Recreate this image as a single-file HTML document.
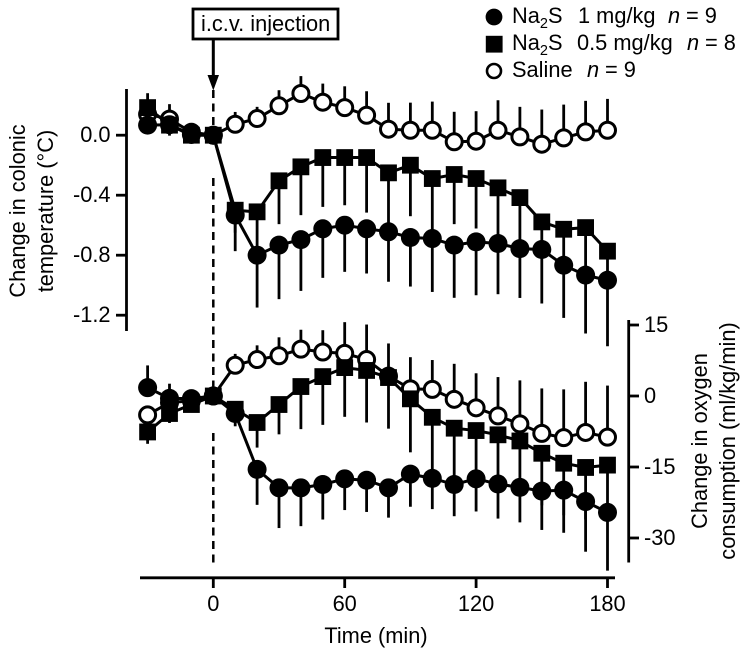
<!DOCTYPE html>
<html lang="en">
<head>
<meta charset="utf-8">
<title>Change in colonic temperature and oxygen consumption</title>
<style>
html,body{margin:0;padding:0;background:#fff;}
svg{display:block;}
text{font-family:"Liberation Sans",Arial,sans-serif;font-size:21.8px;fill:#000;}
</style>
</head>
<body>
<svg id="chart" xmlns="http://www.w3.org/2000/svg" width="751" height="655" viewBox="0 0 751 655">
  <rect x="0" y="0" width="751" height="655" fill="#fff"/>

  <line x1="213.3" y1="90" x2="213.3" y2="128" stroke="#000" stroke-width="2.5" stroke-dasharray="8 5.5"/>
  <line x1="213.3" y1="178" x2="213.3" y2="398" stroke="#000" stroke-width="2.5" stroke-dasharray="8 5.5"/>
  <line x1="213.3" y1="433" x2="213.3" y2="568" stroke="#000" stroke-width="2.5" stroke-dasharray="8 5.5"/>

  <rect x="193" y="9" width="145" height="30" fill="#fff" stroke="#000" stroke-width="2.8"/>
  <text x="201" y="31">i.c.v. injection</text>
  <line x1="213.3" y1="39" x2="213.3" y2="78" stroke="#000" stroke-width="3"/>
  <polygon points="207.5,75 219,75 213.3,90.5" fill="#000"/>

  <g>
    <circle cx="494" cy="17" r="8.4" fill="#000"/>
    <text y="23"><tspan x="512">Na</tspan><tspan font-size="14.5" dy="5">2</tspan><tspan dy="-5">S</tspan><tspan x="578">1 mg/kg</tspan><tspan x="668" font-style="italic">n</tspan><tspan x="686">= 9</tspan></text>
    <rect x="485.8" y="35.8" width="16.8" height="16.8" fill="#000"/>
    <text y="50"><tspan x="512">Na</tspan><tspan font-size="14.5" dy="5">2</tspan><tspan dy="-5">S</tspan><tspan x="577">0.5 mg/kg</tspan><tspan x="687" font-style="italic">n</tspan><tspan x="705">= 8</tspan></text>
    <circle cx="494" cy="71" r="7" fill="#fff" stroke="#000" stroke-width="2.6"/>
    <text y="77"><tspan x="512">Saline</tspan><tspan x="587" font-style="italic">n</tspan><tspan x="605">= 9</tspan></text>
  </g>

  <text transform="translate(25,211) rotate(-90)" text-anchor="middle">Change in colonic</text>
  <text transform="translate(53,211) rotate(-90)" text-anchor="middle">temperature (°C)</text>
  <text transform="translate(707,441) rotate(-90)" text-anchor="middle">Change in oxygen</text>
  <text transform="translate(735,441) rotate(-90)" text-anchor="middle">consumption (ml/kg/min)</text>
  <text x="376" y="643" text-anchor="middle">Time (min)</text>

  <g id="axes"></g>
  <g id="plot-temperature"></g>
  <g id="plot-oxygen"></g>
</svg>

<script>
// ---- Categories and tick labels ----
const times = [-30,-20,-10,0,10,20,30,40,50,60,70,80,90,100,110,120,130,140,150,160,170,180];
const timeTicks = [0,60,120,180];
const temperatureTicks = [0,-0.4,-0.8,-1.2];
const temperatureTickLabels = ['0.0','-0.4','-0.8','-1.2'];
const oxygenTicks = [15,0,-15,-30];
const oxygenTickLabels = ['15','0','-15','-30'];

// ---- Colonic temperature (°C); errors are signed offsets from the mean ----
const tempHigh = [0.067,0.07,0.005,0,-0.533,-0.8,-0.733,-0.696,-0.624,-0.6,-0.624,-0.644,-0.682,-0.689,-0.733,-0.711,-0.722,-0.756,-0.762,-0.867,-0.933,-0.967];
const tempHighErr = [-0.03,-0.073,-0.02,0,-0.24,-0.349,-0.36,-0.342,-0.327,-0.311,-0.298,-0.333,-0.327,-0.356,-0.351,-0.356,-0.338,-0.329,-0.36,-0.351,-0.389,-0.44];
const tempLow = [0.184,0.067,0.0,0,-0.5,-0.511,-0.304,-0.211,-0.149,-0.149,-0.149,-0.251,-0.2,-0.289,-0.262,-0.289,-0.351,-0.416,-0.578,-0.627,-0.616,-0.773];
const tempLowErr = [-0.02,-0.02,-0.02,0,-0.15,-0.29,-0.289,-0.322,-0.329,-0.318,-0.367,-0.4,-0.34,-0.39,-0.331,-0.333,-0.37,-0.307,-0.19,-0.25,-0.307,-0.2];
const tempSaline = [0.14,0.107,0.02,0,0.073,0.111,0.196,0.278,0.22,0.184,0.133,0.04,0.033,0.033,-0.044,-0.04,0.033,-0.011,-0.06,-0.018,0.022,0.033];
const tempSalineErr = [0.14,0.1,0.02,0,0.082,0.078,0.104,0.116,0.124,0.142,0.16,0.176,0.184,0.191,0.2,0.2,0.2,0.2,0.231,0.222,0.207,0.209];

// ---- Oxygen consumption (ml/kg/min) ----
const oxyHigh = [1.76,-0.5,-0.56,0,-3.7,-15.5,-19.4,-19.4,-18.7,-17.5,-17.8,-19.4,-16.5,-17.4,-18.7,-17.5,-18.6,-19.3,-20.1,-19.9,-22.3,-24.6];
const oxyHighErr = [4.7,3.1,0.5,0,-2.7,-7.5,-8.5,-8.1,-7.4,-6.6,-6.7,-6.3,-6.9,-6.5,-6.7,-6.9,-7.3,-7.4,-8.2,-9,-10.6,-12.3];
const oxyLow = [-7.6,-3.7,-1.8,0,-2.8,-5.6,-1.8,2,4.1,6,5.4,3.9,-0.6,-4.5,-6.8,-7.3,-8.2,-9.5,-12.1,-14.2,-15.1,-14.6];
const oxyLowErr = [-2.5,-2,-0.5,0,-1.5,-5.3,-6.3,-9,-10.2,-10.4,-11,-10.8,-11.3,-13,-12,-12,-12,-11,-11,-11,-11,-11];
const oxySaline = [-4,-1.4,-1,0,6.5,7.7,8.5,9.9,9.3,9,7.7,4.2,1.5,1.4,-0.7,-2.5,-4.2,-5.9,-7.9,-8.8,-7.7,-8.7];
const oxySalineErr = [1.5,2,1,0,2.4,3,3.9,4.1,4.6,6.6,7.4,6.9,6.7,6.2,7.5,7.3,8.2,9.2,9.5,10.2,10.7,10.9];

// ---- Axis functions ----
const xScale = t => 213.3 + 2.19 * t;
const tempScale = v => 135.2 - 150 * v;
const oxyScale = v => 396 - 4.733 * v;

const NS = 'http://www.w3.org/2000/svg';
const INK = '#000';

function make(tag, attrs, parent) {
  const el = document.createElementNS(NS, tag);
  for (const k in attrs) el.setAttribute(k, attrs[k]);
  parent.appendChild(el);
  return el;
}

function axisLine(x1, y1, x2, y2, parent, name) {
  const el = make('line', {x1: x1, y1: y1, x2: x2, y2: y2, stroke: INK, 'stroke-width': 2.8}, parent);
  
  
}

function tickLabel(x, y, anchor, label, parent, name) {
  const el = make('text', {x: x, y: y, 'text-anchor': anchor}, parent);
  el.textContent = label;
  
  
}

function drawAxes() {
  const g = document.getElementById('axes');
  axisLine(126.5, 89, 126.5, 331, g, 'temperature-axis-line');
  temperatureTicks.forEach((v, i) => {
    axisLine(116, tempScale(v), 126.5, tempScale(v), g, 'temperature-tick');
    tickLabel(110.5, tempScale(v) + 6.8, 'end', temperatureTickLabels[i], g, 'temperature-tick-label');
  });
  axisLine(628.7, 320, 628.7, 562.5, g, 'oxygen-axis-line');
  oxygenTicks.forEach((v, i) => {
    axisLine(628.7, oxyScale(v), 639, oxyScale(v), g, 'oxygen-tick');
    tickLabel(644, oxyScale(v) + 7.2, 'start', oxygenTickLabels[i], g, 'oxygen-tick-label');
  });
  axisLine(140, 577.8, 615, 577.8, g, 'time-axis-line');
  timeTicks.forEach(t => {
    axisLine(xScale(t), 577.8, xScale(t), 588, g, 'time-tick');
    tickLabel(xScale(t), 611, 'middle', String(t), g, 'time-tick-label');
  });
}

function drawSeries(parentId, name, values, errors, yScale, shape) {
  const parent = document.getElementById(parentId);
  const g = make('g', {}, parent);
  
  

  values.forEach((v, i) => {
    const bar = make('line', {
      x1: xScale(times[i]), y1: yScale(v),
      x2: xScale(times[i]), y2: yScale(v + errors[i]),
      stroke: INK, 'stroke-width': 2.8
    }, g);
    
    
  });

  const pts = values.map((v, i) => xScale(times[i]) + ',' + yScale(v)).join(' ');
  const line = make('polyline', {points: pts, fill: 'none', stroke: INK, 'stroke-width': 3}, g);
  
  

  values.forEach((v, i) => {
    const cx = xScale(times[i]);
    const cy = yScale(v);
    let mark;
    if (shape === 'square') {
      mark = make('rect', {x: cx - 8.4, y: cy - 8.4, width: 16.8, height: 16.8, fill: INK}, g);
    } else if (shape === 'open') {
      mark = make('circle', {cx: cx, cy: cy, r: 8, fill: '#fff', stroke: INK, 'stroke-width': 3}, g);
    } else {
      mark = make('circle', {cx: cx, cy: cy, r: 9.5, fill: INK}, g);
    }
    
    
  });
}

drawAxes();
drawSeries('plot-temperature', 'temperature-saline', tempSaline, tempSalineErr, tempScale, 'open');
drawSeries('plot-temperature', 'temperature-na2s-1', tempHigh, tempHighErr, tempScale, 'filled');
drawSeries('plot-temperature', 'temperature-na2s-05', tempLow, tempLowErr, tempScale, 'square');
drawSeries('plot-oxygen', 'oxygen-saline', oxySaline, oxySalineErr, oxyScale, 'open');
drawSeries('plot-oxygen', 'oxygen-na2s-1', oxyHigh, oxyHighErr, oxyScale, 'filled');
drawSeries('plot-oxygen', 'oxygen-na2s-05', oxyLow, oxyLowErr, oxyScale, 'square');
</script>
</body>
</html>
